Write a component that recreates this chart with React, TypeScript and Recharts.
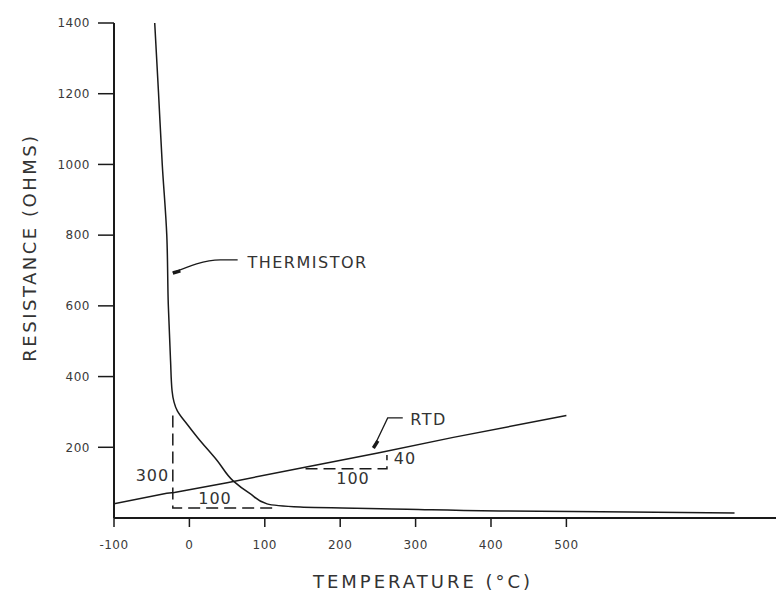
import React from 'react'
import {
  LineChart,
  Line,
  XAxis,
  YAxis,
  ReferenceDot,
} from 'recharts'

// values
const thermistorTemp = [-46, -41, -36, -30, -28, -25, -23, -16, -3, 11, 37, 58, 81, 103, 147, 289, 412, 584, 723]
const thermistorOhms = [1400, 1204, 1000, 800, 604, 445, 360, 303, 265, 227, 162, 105, 68, 40, 31, 25, 20, 17, 14]

const rtdTemp = [-100, -30, -20, 50, 150, 250, 350, 500]
const rtdOhms = [40, 70, 72, 100, 142, 184, 228, 290]

const xTicks = [-100, 0, 100, 200, 300, 400, 500]
const yTicks = [200, 400, 600, 800, 1000, 1200, 1400]

// slope construction lines (dashed)
const thermSlopeTemp = [-22, -22, 111]
const thermSlopeOhms = [290, 28, 28]
const rtdSlopeTemp = [154, 262, 262]
const rtdSlopeOhms = [139, 139, 178]

// leader lines for the curve labels
const thermLeaderTemp = [64, 41, -22]
const thermLeaderOhms = [730, 730, 693]
const thermHeadTemp = [-12, -22]
const thermHeadOhms = [699, 693]
const rtdLeaderTemp = [283, 263, 244]
const rtdLeaderOhms = [283, 283, 198]
const rtdHeadTemp = [250, 244]
const rtdHeadOhms = [218, 198]

// annotation texts: [label, temp, ohms]
const notes: [string, number, number][] = [
  ['300', -49, 122],
  ['100', 34, 57],
  ['100', 217, 113],
  ['40', 286, 170],
]
const curveLabels: [string, number, number][] = [
  ['THERMISTOR', 77, 724],
  ['RTD', 293, 280],
]

const zip = (xs: number[], ys: number[]) => xs.map((t, i) => ({ t, r: ys[i] }))

const thermistor = zip(thermistorTemp, thermistorOhms)
const rtd = zip(rtdTemp, rtdOhms)

const FONT = '"DejaVu Sans", sans-serif'
const INK = '#1a1a1a'

const XTick = ({ x, y, payload }: any) => (
  <text x={x} y={y} dy="0.71em" textAnchor="middle" fill="#3a3a3a" fontSize={12} fontFamily={FONT} letterSpacing={0.5}>
    {payload.value}
  </text>
)

const YTick = ({ x, y, payload }: any) => (
  <text x={x} y={y} dy="0.36em" textAnchor="end" fill="#3a3a3a" fontSize={12} fontFamily={FONT} letterSpacing={0.5}>
    {payload.value}
  </text>
)

const XTitle = ({ viewBox }: any) => (
  <text x={viewBox.x + viewBox.width / 2 - 22} y={viewBox.y + 70} textAnchor="middle" fill="#333" fontSize={18} fontFamily={FONT} letterSpacing={3}>
    TEMPERATURE (°C)
  </text>
)

const YTitle = ({ viewBox }: any) => {
  const cx = viewBox.x - 25
  const cy = viewBox.y + viewBox.height / 2 - 23
  return (
    <text x={cx} y={cy} transform={`rotate(-90 ${cx} ${cy})`} textAnchor="middle" dominantBaseline="central" fill="#333" fontSize={18} fontFamily={FONT} letterSpacing={2.5}>
      RESISTANCE (OHMS)
    </text>
  )
}

const noteText = (value: string, anchor: 'middle' | 'start', size: number, spacing: number) =>
  ({ viewBox }: any) => (
    <text x={viewBox.x} y={viewBox.y} dy="0.36em" textAnchor={anchor} fill="#333" fontSize={size} fontFamily={FONT} letterSpacing={spacing}>
      {value}
    </text>
  )

export default function App() {
  return (
    <div style={{ position: 'absolute', left: 0, top: 0, background: '#fff' }}>
      <LineChart width={776} height={594} margin={{ top: 23, right: 0, bottom: 36, left: 54 }}>
        <XAxis
          type="number"
          dataKey="t"
          domain={[-100, 778]}
          ticks={xTicks}
          allowDataOverflow
          height={40}
          axisLine={{ stroke: INK, strokeWidth: 2 }}
          tickLine={{ stroke: INK, strokeWidth: 1.5 }}
          tickSize={9}
          tickMargin={13}
          tick={<XTick />}
          label={<XTitle />}
        />
        <YAxis
          type="number"
          dataKey="r"
          domain={[0, 1400]}
          ticks={yTicks}
          width={60}
          axisLine={{ stroke: INK, strokeWidth: 2 }}
          tickLine={{ stroke: INK, strokeWidth: 1.5 }}
          tickSize={16}
          tickMargin={8}
          tick={<YTick />}
          label={<YTitle />}
        />

        <Line data={thermistor} dataKey="r" type="monotoneY" stroke={INK} strokeWidth={1.5} dot={false} isAnimationActive={false} />
        <Line data={rtd} dataKey="r" type="linear" stroke={INK} strokeWidth={1.5} dot={false} isAnimationActive={false} />

        <Line data={zip(thermSlopeTemp, thermSlopeOhms)} dataKey="r" type="linear" stroke={INK} strokeWidth={1.5} strokeDasharray="12 6" dot={false} isAnimationActive={false} />
        <Line data={zip(rtdSlopeTemp, rtdSlopeOhms)} dataKey="r" type="linear" stroke={INK} strokeWidth={1.5} strokeDasharray="12 6" dot={false} isAnimationActive={false} />

        <Line data={zip(thermLeaderTemp, thermLeaderOhms)} dataKey="r" type="monotone" stroke={INK} strokeWidth={1.3} dot={false} isAnimationActive={false} />
        <Line data={zip(thermHeadTemp, thermHeadOhms)} dataKey="r" type="linear" stroke={INK} strokeWidth={3.5} dot={false} isAnimationActive={false} />
        <Line data={zip(rtdLeaderTemp, rtdLeaderOhms)} dataKey="r" type="linear" stroke={INK} strokeWidth={1.3} dot={false} isAnimationActive={false} />
        <Line data={zip(rtdHeadTemp, rtdHeadOhms)} dataKey="r" type="linear" stroke={INK} strokeWidth={3.5} dot={false} isAnimationActive={false} />

        {notes.map(([v, t, r], i) => (
          <ReferenceDot key={'n' + i} x={t} y={r} r={0} stroke="none" fill="none" label={noteText(v, 'middle', 16, 1)} />
        ))}
        {curveLabels.map(([v, t, r], i) => (
          <ReferenceDot key={'c' + i} x={t} y={r} r={0} stroke="none" fill="none" label={noteText(v, 'start', 16, 1.5)} />
        ))}
      </LineChart>
    </div>
  )
}
